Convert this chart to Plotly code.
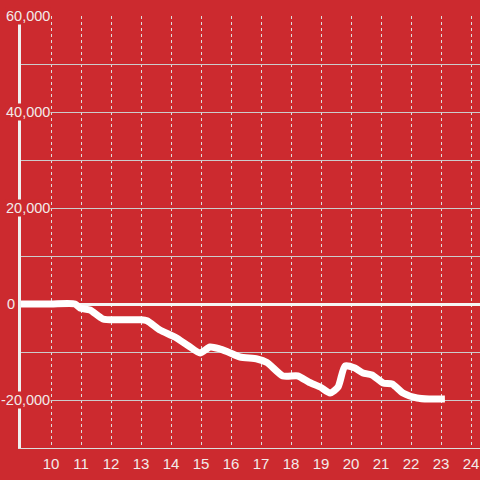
import plotly.graph_objects as go

hours = [9.0, 10.0, 10.8, 10.97, 11.3, 11.73, 12.2, 13.0, 13.2, 13.63, 14.13, 14.6, 14.97, 15.3, 15.6, 15.9, 16.3, 16.87, 17.2, 17.73, 18.23, 18.6, 18.97, 19.3, 19.57, 19.8, 20.13, 20.4, 20.7, 21.07, 21.37, 21.73, 22.2, 22.6, 23.13]
values = [0, 0, 0, -833, -1250, -3125, -3300, -3300, -3500, -5417, -6875, -8800, -10208, -8958, -9300, -10000, -11042, -11458, -12200, -15000, -15000, -16300, -17292, -18542, -17292, -12917, -13333, -14375, -14792, -16458, -16667, -18542, -19583, -19800, -19800]

ytick_vals = [-20000, 0, 20000, 40000, 60000]
ytick_text = ["-20,000", "0", "20,000", "40,000", "60,000"]
xtick_vals = list(range(10, 25))

BG = "#cc2a2f"
TXT = "#f2eaea"
FONT = "Liberation Sans, Arial, sans-serif"

fig = go.Figure()
fig.add_trace(go.Scatter(
    x=hours, y=values, mode="lines",
    line=dict(color="white", width=7, shape="spline", smoothing=0.6),
    hoverinfo="skip", showlegend=False,
))

for v, t in zip(ytick_vals, ytick_text):
    right_px = 16 if v == 0 else 51
    fig.add_annotation(
        x=(right_px - 21) / 459, xref="paper", xanchor="right",
        y=v, yref="y", yanchor="middle",
        text=t, showarrow=False,
        font=dict(family=FONT, size=14.5, color=TXT),
        bgcolor=BG if v != 0 else "rgba(0,0,0,0)", borderpad=0,
    )

fig.update_layout(
    width=480, height=480,
    margin=dict(l=21, r=0, t=16, b=32),
    paper_bgcolor=BG, plot_bgcolor=BG,
    font=dict(family=FONT, size=15, color=TXT),
    xaxis=dict(
        range=[9, 24.3], tickvals=xtick_vals, ticks="",
        showgrid=True, gridcolor="#dddddd", griddash="dot", gridwidth=1,
        showline=True, linecolor="#dddddd", linewidth=1,
        zeroline=False, ticklabelstandoff=2,
    ),
    yaxis=dict(
        range=[-30000, 60000], dtick=10000, tick0=0,
        showticklabels=False, ticks="",
        showgrid=True, gridcolor="#cccccc", gridwidth=1,
        zeroline=True, zerolinecolor="#f5f5f5", zerolinewidth=3,
        showline=True, linecolor="#f0f0f0", linewidth=3,
    ),
)

fig.write_html("out.html", config={"displayModeBar": False},
               post_script="document.body.style.margin='0';document.body.style.overflow='hidden';")
